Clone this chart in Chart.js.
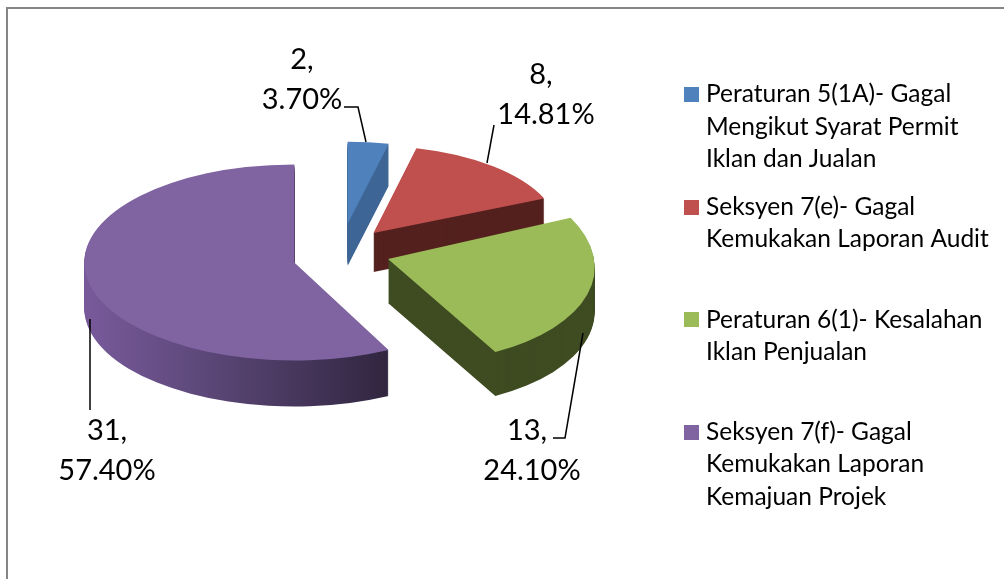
<!DOCTYPE html>
<html>
<head>
<meta charset="utf-8">
<style>
    html, body { margin: 0; padding: 0; background: #fff; }
    canvas { display: block; }
</style>
<script src="https://cdn.jsdelivr.net/npm/chart.js@4"></script>
</head>
<body>
<canvas id="chart" width="1004" height="579"></canvas>
<script>
// Values
const categories = [
    'Peraturan 5(1A)- Gagal Mengikut Syarat Permit Iklan dan Jualan',
    'Seksyen 7(e)- Gagal Kemukakan Laporan Audit',
    'Peraturan 6(1)- Kesalahan Iklan Penjualan',
    'Seksyen 7(f)- Gagal Kemukakan Laporan Kemajuan Projek'
];
const counts = [2, 8, 13, 31];
const percents = ['3.70%', '14.81%', '24.10%', '57.40%'];
const legendLines = [
    ['Peraturan 5(1A)- Gagal', 'Mengikut Syarat Permit', 'Iklan dan Jualan'],
    ['Seksyen 7(e)- Gagal', 'Kemukakan Laporan Audit'],
    ['Peraturan 6(1)- Kesalahan', 'Iklan Penjualan'],
    ['Seksyen 7(f)- Gagal', 'Kemukakan Laporan', 'Kemajuan Projek']
];

const topColors = ['#4f81bd', '#c0504d', '#9bbb59', '#8064a2'];
const sideColors = ['#3f6695', '#54211f', '#3f4c22', null];

// Fake 3D: how far slices are pulled out, and each slice's squash (far side is smaller)
const explode = 49;
const tilt = 0.48;
const sliceScaleX = [0.89, 0.93, 1.03, 1.05];
const sliceScaleY = [0.41, 0.435, 0.52, 0.49];
const sliceShearX = [0, 0, 0.16, 0];
const sliceNudgeY = [-4, 0, 0, 6];
const sliceDepth = [42, 39, 44, 46];

// Text layout
const labelFont = '29px Lato';
const legendFont = '24.5px Lato';
const labelLayout = [
    { x: [302, 302], y: [60, 100], leader: [[344, 107], [358, 107], [366, 142]] },
    { x: [541, 546], y: [75, 115], leader: [[494, 125], [487, 163]] },
    { x: [527, 532], y: [431, 471], leader: [[553, 438], [565, 438], [583, 333]] },
    { x: [107, 107], y: [431, 471], leader: [[90, 319], [90, 410]] }
];
const legendTops = [[94, 127, 159], [207, 239], [320, 352], [432, 464, 497]];
const legendBoxes = [87, 200, 312, 425];

function applySlice(ctx, el, i) {
    const mid = (el.startAngle + el.endAngle) / 2;
    ctx.translate(el.x + Math.cos(mid) * explode, el.y + Math.sin(mid) * explode * tilt + sliceNudgeY[i]);
    ctx.transform(1, 0, sliceShearX[i], 1, 0, 0);
    ctx.scale(sliceScaleX[i], sliceScaleY[i]);
    ctx.translate(-el.x, -el.y);
}

const pie3d = {
    id: 'pie3d',
    beforeDatasetsDraw(chart) {
        const ctx = chart.ctx;
        const arcs = chart.getDatasetMeta(0).data;

        // walls first, built by stacking the slice outline downwards
        arcs.forEach((el, i) => {
            let fill = sideColors[i];
            if (!fill) {
                fill = ctx.createLinearGradient(90, 0, 386, 0);
                fill.addColorStop(0, '#77599a');
                fill.addColorStop(0.35, '#5f4a7c');
                fill.addColorStop(1, '#312640');
            }
            for (let d = sliceDepth[i]; d > 0; d--) {
                ctx.save();
                ctx.translate(0, d);
                applySlice(ctx, el, i);
                ctx.beginPath();
                ctx.moveTo(el.x, el.y);
                ctx.arc(el.x, el.y, el.outerRadius, el.startAngle, el.endAngle);
                ctx.closePath();
                ctx.restore();
                ctx.fillStyle = fill;
                ctx.fill();
            }
        });

        // then the top faces, drawn by the arc elements themselves
        arcs.forEach((el, i) => {
            ctx.save();
            applySlice(ctx, el, i);
            el.draw(ctx);
            ctx.restore();
        });
        return false;
    },
    afterDraw(chart) {
        const ctx = chart.ctx;
        ctx.save();

        // frame, only left and top are in the picture
        ctx.fillStyle = '#868686';
        ctx.fillRect(6, 7, 2, 572);
        ctx.fillRect(6, 7, 998, 2);

        // data labels with leader lines
        ctx.fillStyle = '#000';
        ctx.font = labelFont;
        ctx.textAlign = 'center';
        ctx.textBaseline = 'middle';
        labelLayout.forEach((lab, i) => {
            ctx.fillText(counts[i] + ',', lab.x[0], lab.y[0]);
            ctx.fillText(percents[i], lab.x[1], lab.y[1]);
            ctx.beginPath();
            lab.leader.forEach((p, j) => j ? ctx.lineTo(p[0], p[1]) : ctx.moveTo(p[0], p[1]));
            ctx.strokeStyle = '#000';
            ctx.lineWidth = 1.5;
            ctx.stroke();
        });

        // legend
        ctx.font = legendFont;
        ctx.textAlign = 'left';
        legendLines.forEach((lines, i) => {
            ctx.fillStyle = topColors[i];
            ctx.fillRect(684, legendBoxes[i], 15, 15);
            ctx.fillStyle = '#000';
            lines.forEach((line, j) => ctx.fillText(line, 706, legendTops[i][j]));
        });
        ctx.restore();
    }
};

new Chart(document.getElementById('chart'), {
    type: 'pie',
    data: {
        labels: categories,
        datasets: [{
            data: counts,
            backgroundColor: topColors,
            borderWidth: 0
        }]
    },
    options: {
        responsive: false,
        animation: false,
        radius: 200,
        layout: { padding: { left: 0, right: 320, top: 0, bottom: 77 } },
        plugins: {
            legend: { display: false },
            tooltip: { enabled: false }
        }
    },
    plugins: [pie3d]
});
</script>
</body>
</html>
